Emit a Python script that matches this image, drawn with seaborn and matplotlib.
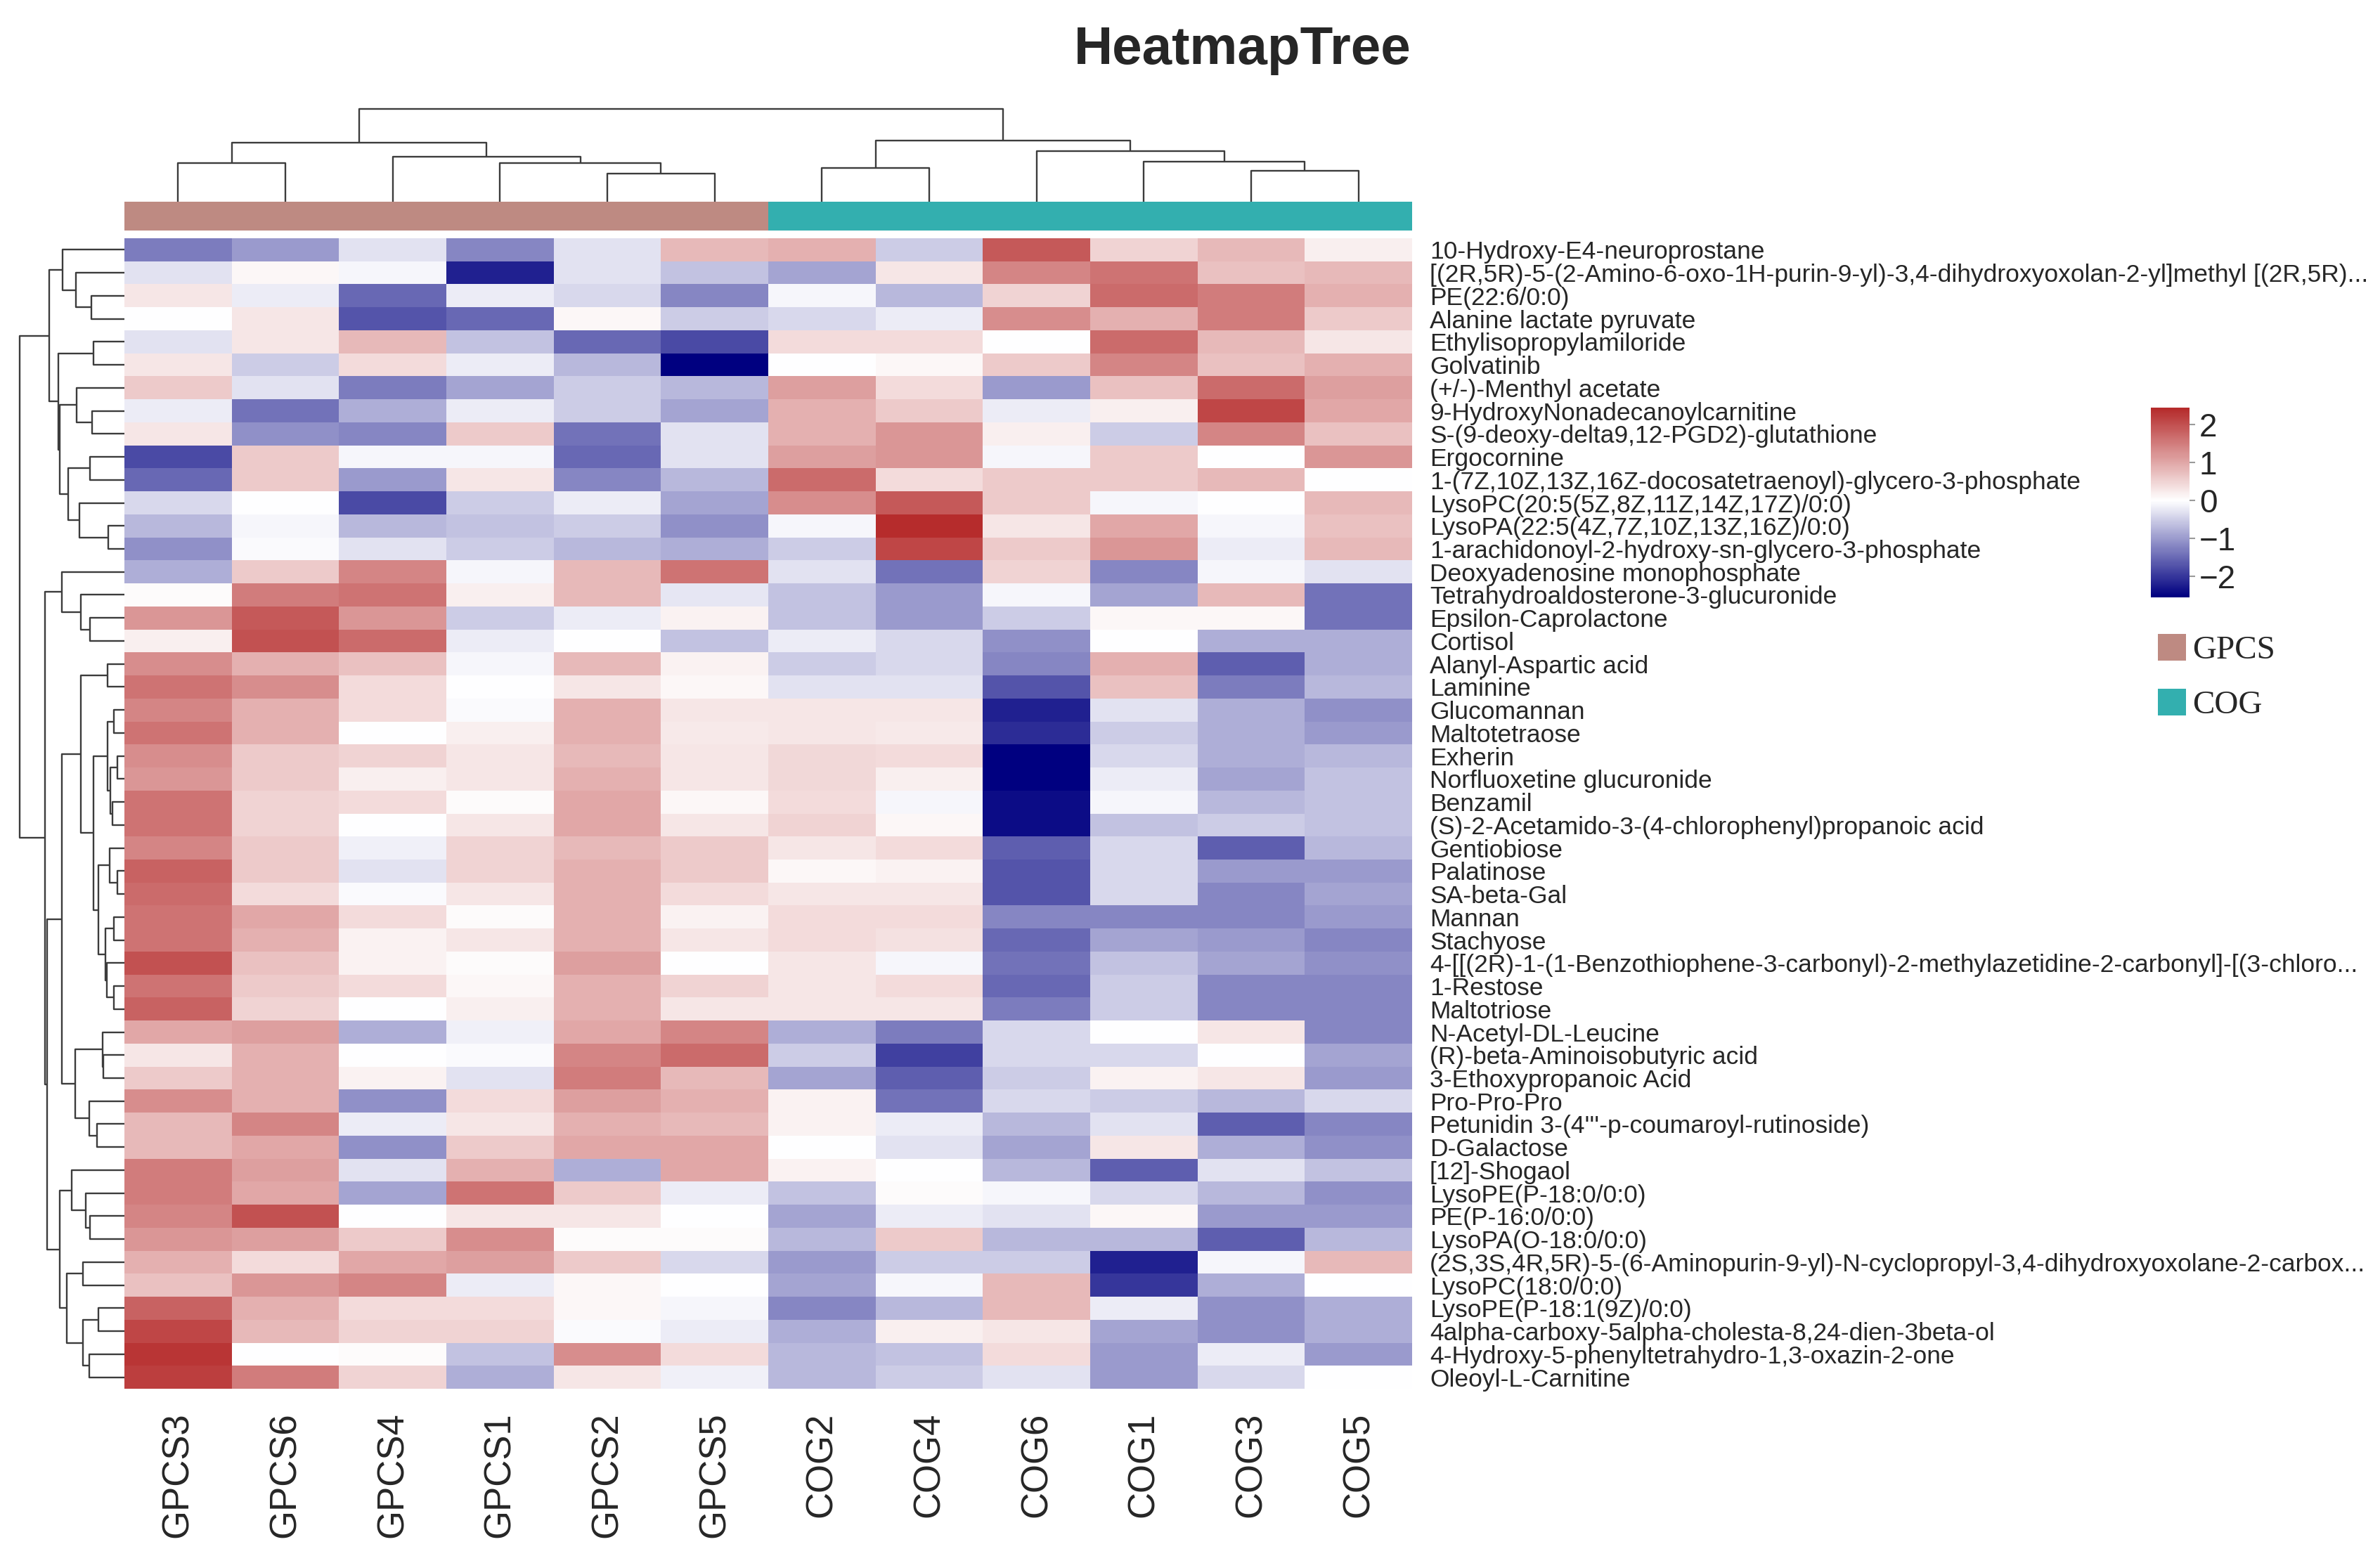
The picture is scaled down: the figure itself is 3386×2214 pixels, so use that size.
import numpy as np
import pandas as pd
import matplotlib
matplotlib.use("Agg")
import matplotlib.pyplot as plt
import seaborn as sns
from matplotlib.colors import LinearSegmentedColormap, ListedColormap
from matplotlib.patches import Patch

# ---------------- data ----------------
metabolites = [
    "10-Hydroxy-E4-neuroprostane",
    "[(2R,5R)-5-(2-Amino-6-oxo-1H-purin-9-yl)-3,4-dihydroxyoxolan-2-yl]methyl [(2R,5R)...",
    "PE(22:6/0:0)",
    "Alanine lactate pyruvate",
    "Ethylisopropylamiloride",
    "Golvatinib",
    "(+/-)-Menthyl acetate",
    "9-HydroxyNonadecanoylcarnitine",
    "S-(9-deoxy-delta9,12-PGD2)-glutathione",
    "Ergocornine",
    "1-(7Z,10Z,13Z,16Z-docosatetraenoyl)-glycero-3-phosphate",
    "LysoPC(20:5(5Z,8Z,11Z,14Z,17Z)/0:0)",
    "LysoPA(22:5(4Z,7Z,10Z,13Z,16Z)/0:0)",
    "1-arachidonoyl-2-hydroxy-sn-glycero-3-phosphate",
    "Deoxyadenosine monophosphate",
    "Tetrahydroaldosterone-3-glucuronide",
    "Epsilon-Caprolactone",
    "Cortisol",
    "Alanyl-Aspartic acid",
    "Laminine",
    "Glucomannan",
    "Maltotetraose",
    "Exherin",
    "Norfluoxetine glucuronide",
    "Benzamil",
    "(S)-2-Acetamido-3-(4-chlorophenyl)propanoic acid",
    "Gentiobiose",
    "Palatinose",
    "SA-beta-Gal",
    "Mannan",
    "Stachyose",
    "4-[[(2R)-1-(1-Benzothiophene-3-carbonyl)-2-methylazetidine-2-carbonyl]-[(3-chloro...",
    "1-Restose",
    "Maltotriose",
    "N-Acetyl-DL-Leucine",
    "(R)-beta-Aminoisobutyric acid",
    "3-Ethoxypropanoic Acid",
    "Pro-Pro-Pro",
    "Petunidin 3-(4'''-p-coumaroyl-rutinoside)",
    "D-Galactose",
    "[12]-Shogaol",
    "LysoPE(P-18:0/0:0)",
    "PE(P-16:0/0:0)",
    "LysoPA(O-18:0/0:0)",
    "(2S,3S,4R,5R)-5-(6-Aminopurin-9-yl)-N-cyclopropyl-3,4-dihydroxyoxolane-2-carbox...",
    "LysoPC(18:0/0:0)",
    "LysoPE(P-18:1(9Z)/0:0)",
    "4alpha-carboxy-5alpha-cholesta-8,24-dien-3beta-ol",
    "4-Hydroxy-5-phenyltetrahydro-1,3-oxazin-2-one",
    "Oleoyl-L-Carnitine",
]

samples = ["GPCS3", "GPCS6", "GPCS4", "GPCS1", "GPCS2", "GPCS5",
           "COG2", "COG4", "COG6", "COG1", "COG3", "COG5"]
groups = ["GPCS"] * 6 + ["COG"] * 6
group_names = ["GPCS", "COG"]

GPCS3 = [-1.3, -0.3, 0.3, 0.0, -0.3, 0.3, 0.6, -0.2, 0.3, -1.8,
         -1.5, -0.4, -0.7, -1.1, -0.8, 0.05, 1.2, 0.2, 1.3, 1.6,
         1.4, 1.6, 1.3, 1.2, 1.6, 1.6, 1.4, 1.8, 1.7, 1.6,
         1.6, 2.0, 1.6, 1.8, 1.0, 0.3, 0.6, 1.3, 0.8, 0.8,
         1.5, 1.5, 1.4, 1.2, 0.9, 0.7, 1.8, 2.1, 2.3, 2.2]
GPCS6 = [-1.0, 0.1, -0.2, 0.3, 0.3, -0.5, -0.3, -1.4, -1.1, 0.6,
         0.6, 0.0, -0.1, -0.05, 0.6, 1.5, 1.9, 2.0, 0.9, 1.3,
         0.9, 0.9, 0.6, 0.6, 0.5, 0.5, 0.6, 0.6, 0.4, 1.0,
         0.9, 0.7, 0.6, 0.5, 1.1, 0.9, 0.9, 0.9, 1.4, 1.0,
         1.1, 1.0, 2.0, 1.1, 0.4, 1.2, 0.9, 0.8, 0.0, 1.5]
GPCS4 = [-0.3, -0.1, -1.5, -1.7, 0.8, 0.4, -1.3, -0.8, -1.2, -0.1,
         -1.0, -1.8, -0.7, -0.3, 1.4, 1.6, 1.2, 1.7, 0.7, 0.4,
         0.4, 0.0, 0.5, 0.2, 0.4, 0.0, -0.15, -0.3, -0.05, 0.4,
         0.15, 0.15, 0.4, 0.0, -0.8, 0.0, 0.15, -1.1, -0.2, -1.1,
         -0.3, -0.9, 0.0, 0.6, 1.0, 1.4, 0.4, 0.5, 0.05, 0.5]
GPCS1 = [-1.2, -2.2, -0.2, -1.5, -0.6, -0.2, -0.9, -0.2, 0.6, -0.1,
         0.3, -0.5, -0.6, -0.5, -0.1, 0.2, -0.5, -0.2, -0.1, 0.0,
         -0.05, 0.2, 0.3, 0.3, 0.05, 0.3, 0.5, 0.5, 0.3, 0.05,
         0.3, 0.05, 0.1, 0.2, -0.15, -0.05, -0.3, 0.4, 0.3, 0.6,
         0.9, 1.6, 0.3, 1.3, 1.1, -0.2, 0.4, 0.5, -0.6, -0.8]
GPCS2 = [-0.3, -0.3, -0.4, 0.1, -1.5, -0.7, -0.5, -0.5, -1.4, -1.5,
         -1.2, -0.2, -0.5, -0.7, 0.8, 0.8, -0.2, 0.0, 0.8, 0.3,
         0.9, 0.9, 0.8, 0.9, 1.0, 1.0, 0.8, 0.9, 0.9, 0.9,
         0.9, 1.1, 0.9, 0.9, 1.0, 1.4, 1.5, 1.1, 0.9, 1.0,
         -0.8, 0.6, 0.3, 0.05, 0.6, 0.1, 0.1, -0.05, 1.3, 0.3]
GPCS5 = [0.8, -0.6, -1.2, -0.5, -1.8, -2.55, -0.7, -0.9, -0.3, -0.3,
         -0.7, -0.9, -1.1, -0.8, 1.6, -0.25, 0.15, -0.6, 0.15, 0.1,
         0.3, 0.25, 0.3, 0.3, 0.1, 0.3, 0.6, 0.6, 0.4, 0.15,
         0.3, 0.0, 0.5, 0.3, 1.4, 1.7, 0.8, 0.9, 0.8, 1.0,
         1.0, -0.2, 0.0, 0.05, -0.4, 0.0, -0.1, -0.2, 0.4, -0.15]
COG2 = [0.9, -0.9, -0.1, -0.4, 0.4, 0.0, 1.1, 0.9, 0.9, 1.1,
        1.7, 1.3, -0.1, -0.5, -0.3, -0.6, -0.6, -0.2, -0.5, -0.3,
        0.3, 0.3, 0.45, 0.45, 0.4, 0.5, 0.3, 0.1, 0.3, 0.4,
        0.4, 0.3, 0.3, 0.3, -0.8, -0.5, -0.9, 0.15, 0.15, 0.0,
        0.15, -0.6, -0.9, -0.7, -1.0, -0.9, -1.2, -0.8, -0.7, -0.7]
COG4 = [-0.5, 0.3, -0.7, -0.2, 0.4, 0.1, 0.4, 0.6, 1.2, 1.2,
        0.4, 1.9, 2.4, 2.1, -1.4, -1.0, -1.0, -0.4, -0.4, -0.3,
        0.3, 0.25, 0.4, 0.2, -0.1, 0.1, 0.4, 0.15, 0.3, 0.4,
        0.35, -0.1, 0.4, 0.3, -1.3, -1.9, -1.6, -1.4, -0.2, -0.3,
        0.0, 0.05, -0.2, 0.6, -0.5, -0.1, -0.7, 0.2, -0.6, -0.5]
COG6 = [1.9, 1.4, 0.5, 1.3, 0.0, 0.6, -1.0, -0.2, 0.2, -0.1,
        0.6, 0.6, 0.3, 0.6, 0.5, -0.1, -0.5, -1.1, -1.2, -1.7,
        -2.2, -2.1, -2.55, -2.55, -2.4, -2.4, -1.6, -1.7, -1.7, -1.2,
        -1.5, -1.4, -1.5, -1.3, -0.4, -0.4, -0.5, -0.4, -0.7, -0.9,
        -0.7, -0.1, -0.3, -0.7, -0.5, 0.8, 0.8, 0.3, 0.4, -0.3]
COG1 = [0.5, 1.6, 1.7, 0.9, 1.7, 1.4, 0.7, 0.2, -0.5, 0.6,
        0.6, -0.1, 1.0, 1.2, -1.2, -0.9, 0.1, 0.0, 0.9, 0.7,
        -0.3, -0.5, -0.4, -0.2, -0.1, -0.6, -0.4, -0.4, -0.4, -1.2,
        -0.9, -0.6, -0.5, -0.5, 0.0, -0.4, 0.15, -0.5, -0.3, 0.3,
        -1.6, -0.4, 0.1, -0.7, -2.2, -2.0, -0.2, -0.9, -1.0, -1.0]
COG3 = [0.8, 0.7, 1.5, 1.5, 0.8, 0.7, 1.7, 2.1, 1.4, 0.0,
        0.8, 0.0, -0.1, -0.2, -0.1, 0.8, 0.1, -0.8, -1.6, -1.3,
        -0.8, -0.8, -0.8, -0.9, -0.7, -0.5, -1.6, -1.0, -1.2, -1.2,
        -1.0, -0.9, -1.2, -1.2, 0.3, 0.0, 0.3, -0.7, -1.6, -0.8,
        -0.3, -0.7, -1.0, -1.6, -0.1, -0.8, -1.1, -1.1, -0.2, -0.4]
COG5 = [0.2, 0.8, 0.9, 0.6, 0.3, 0.9, 1.1, 1.0, 0.7, 1.2,
        0.0, 0.8, 0.7, 0.8, -0.3, -1.4, -1.4, -0.8, -0.8, -0.7,
        -1.1, -1.0, -0.7, -0.6, -0.6, -0.6, -0.7, -1.0, -0.9, -1.0,
        -1.2, -1.1, -1.2, -1.2, -1.2, -0.9, -1.0, -0.4, -1.2, -1.1,
        -0.6, -1.1, -1.0, -0.7, 0.8, 0.0, -0.8, -0.8, -1.0, 0.0]

# dendrogram structure: (left, right, merge height); ints are leaf indices
col_tree = (((0, 1, 55), (2, (3, (4, 5, 40), 55), 64), 84),
            ((6, 7, 48), (8, (9, (10, 11, 44), 57), 72), 87), 132)

row_tree = (
    ((0, (1, (2, 3, 47), 69), 88),
     ((4, 5, 44),
      ((6, (7, 8, 46), 68), ((9, 10, 49), (11, (12, 13, 23), 64), 80), 92), 94), 107),
    ((14, (15, (16, 17, 49), 62), 89),
     ((((18, 19, 24),
        (((20, 21, 15), ((22, 23, 10), (24, 25, 17), 20), 24),
         ((26, (27, 28, 10), 21), ((29, 30, 15), (31, (32, 33, 15), 25), 27), 37), 44), 62),
       ((34, (35, 36, 30), 31), (37, (38, 39, 39), 50), 70), 89),
      ((40, (41, (42, 43, 49), 55), 75),
       ((44, 45, 59), ((46, 47, 37), (48, 49, 50), 59), 82), 92), 110), 113),
    149)

# ---------------- style ----------------
sns.set_style("white")
plt.rcParams["font.family"] = ["Liberation Sans", "DejaVu Sans"]

W, H = 3386, 2214
fig = plt.figure(figsize=(W / 100, H / 100), dpi=100)


def rect(l, t, r, b):
    return [l / W, 1 - b / H, (r - l) / W, (b - t) / H]


df = pd.DataFrame({"GPCS3": GPCS3, "GPCS6": GPCS6, "GPCS4": GPCS4, "GPCS1": GPCS1,
                   "GPCS2": GPCS2, "GPCS5": GPCS5, "COG2": COG2, "COG4": COG4,
                   "COG6": COG6, "COG1": COG1, "COG3": COG3, "COG5": COG5},
                  index=metabolites)[samples]

cmap = LinearSegmentedColormap.from_list("nwf", ["#000080", "#FFFFFF", "#B22222"])
group_colors = {"GPCS": "#BE8A82", "COG": "#33AFAF"}

ax_hm = fig.add_axes(rect(177, 339, 2009, 1976))
ax_cb = fig.add_axes(rect(3060, 580, 3115, 850))
ax_ann = fig.add_axes(rect(177, 287, 2009, 328))
ax_cd = fig.add_axes(rect(177, 155, 2009, 287))
ax_rd = fig.add_axes(rect(28, 339, 177, 1976))

sns.heatmap(df, ax=ax_hm, cmap=cmap, center=0, vmin=-2.55, vmax=2.45,
            cbar_ax=ax_cb, cbar_kws={"ticks": [2, 1, 0, -1, -2]},
            xticklabels=True, yticklabels=True, linewidths=0)
ax_hm.set_xlabel("")
ax_hm.set_ylabel("")
ax_hm.yaxis.tick_right()
ax_hm.set_yticklabels(metabolites, rotation=0, ha="left", fontsize=25.5)
ax_hm.tick_params(axis="y", length=0, pad=18)
ax_hm.set_xticklabels(samples, rotation=90, fontsize=38)
ax_hm.tick_params(axis="x", length=0, pad=24)

cbar = ax_hm.collections[0].colorbar
cbar.outline.set_visible(False)
cbar.ax.tick_params(labelsize=33, length=6, width=1.5, color="#9a9a9a", pad=4)

# group annotation bar
codes = pd.DataFrame([[group_names.index(g) for g in groups]], columns=samples)
sns.heatmap(codes, ax=ax_ann, cmap=ListedColormap([group_colors[g] for g in group_names]),
            vmin=-0.5, vmax=1.5, cbar=False, xticklabels=False, yticklabels=False)

# dendrograms
LINE = dict(color="#3c3c3c", lw=1.7, solid_capstyle="butt", clip_on=False)


def draw_tree(ax, node, orient):
    if isinstance(node, int):
        return node + 0.5, 0.0
    left, right, h = node
    p1, h1 = draw_tree(ax, left, orient)
    p2, h2 = draw_tree(ax, right, orient)
    if orient == "top":
        ax.plot([p1, p1, p2, p2], [h1, h, h, h2], **LINE)
    else:
        ax.plot([h1, h, h, h2], [p1, p1, p2, p2], **LINE)
    return (p1 + p2) / 2, h


draw_tree(ax_cd, col_tree, "top")
ax_cd.set_xlim(0, len(samples))
ax_cd.set_ylim(0, col_tree[2])
ax_cd.axis("off")

draw_tree(ax_rd, row_tree, "left")
ax_rd.set_xlim(row_tree[2], 0)
ax_rd.set_ylim(len(metabolites), 0)
ax_rd.axis("off")

# title
fig.text(1768 / W, 1 - 91 / H, "HeatmapTree", ha="center", va="baseline",
         fontsize=55, fontweight="bold")

# group legend
handles = [Patch(facecolor=group_colors[g], edgecolor="none") for g in group_names]
fig.legend(handles, group_names, loc="upper left", bbox_to_anchor=(3070 / W, 1 - 902 / H),
           frameon=False, prop={"family": "Liberation Serif", "size": 34},
           handlelength=0.85, handleheight=0.85, labelspacing=0.7,
           handletextpad=0.2, borderpad=0, borderaxespad=0)

fig.savefig("out.png", dpi=100)
